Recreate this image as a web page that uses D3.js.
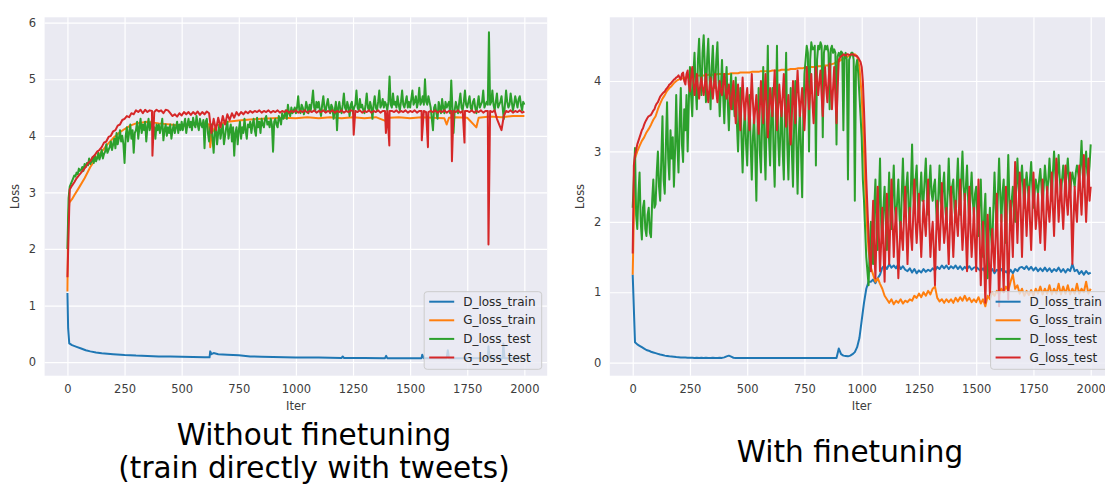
<!DOCTYPE html>
<html>
<head>
<meta charset="utf-8">
<script src="https://cdn.jsdelivr.net/npm/d3@7"></script>
<style>
  body { margin: 0; background: #fff; }
  text { font-family: "DejaVu Sans", sans-serif; }
</style>
</head>
<body>
<div class="display"></div>
<script>
// Two GAN loss plots side by side (seaborn darkgrid look)

const WIDTH = 1105;
const HEIGHT = 484;

const SERIES = ['D_loss_train', 'G_loss_train', 'D_loss_test', 'G_loss_test'];
const COLORS = ['#1f77b4', '#ff7f0e', '#2ca02c', '#d62728'];
const X_TICKS = [0, 250, 500, 750, 1000, 1250, 1500, 1750, 2000];
const Y_TICKS_LEFT = [0, 1, 2, 3, 4, 5, 6];
const Y_TICKS_RIGHT = [0, 1, 2, 3, 4];

// ---- left plot: without finetuning ----
const blueLeft = [[0,1.22],[3,0.6],[8,0.33],[20,0.3],[40,0.27],[60,0.24],[80,0.21],[100,0.19],[125,0.17],
  [150,0.155],[200,0.14],[250,0.125],[300,0.115],[350,0.11],[400,0.1],[450,0.1],[500,0.095],[550,0.09],
  [600,0.085],[622,0.085],[625,0.19],[630,0.14],[640,0.16],[660,0.14],[700,0.13],[750,0.12],[800,0.1],
  [850,0.095],[900,0.09],[950,0.085],[1000,0.08],[1100,0.08],[1200,0.075],[1205,0.1],[1210,0.075],
  [1300,0.075],[1390,0.07],[1395,0.11],[1400,0.07],[1500,0.07],[1550,0.07],[1553,0.13],[1560,0.07],
  [1660,0.07],[1665,0.21],[1670,0.07],[1750,0.07],[1840,0.07],[1843,0.28],[1848,0.07],[1905,0.07],
  [1908,0.33],[1913,0.07],[2000,0.07]];

const orangeLeft = [[0,1.25],[3,2.5],[8,2.82],[20,2.88],[30,2.95],[50,3.08],[75,3.25],[100,3.45],[125,3.6],
  [150,3.72],[175,3.85],[200,3.96],[225,4.05],[250,4.12],[275,4.18],[300,4.22],[350,4.25],[400,4.22],
  [450,4.2],[500,4.18],[550,4.2],[600,4.22],[620,4.2],[625,3.8],[632,4.05],[650,4.18],[700,4.25],
  [750,4.27],[800,4.29],[850,4.3],[900,4.31],[950,4.32],[1000,4.31],[1050,4.33],[1100,4.31],[1150,4.33],
  [1200,4.31],[1250,4.33],[1300,4.31],[1350,4.33],[1400,4.25],[1410,4.32],[1450,4.33],[1500,4.31],
  [1550,4.33],[1600,4.32],[1650,4.31],[1660,4.2],[1670,4.32],[1700,4.33],[1750,4.32],[1790,4.15],
  [1800,4.32],[1850,4.34],[1900,4.33],[1950,4.35],[2000,4.35]];

// every 5 iterations, one row = 100 iterations
const greenLeft = [
  2.0,2.9,3.1,3.15,3.2,3.25,3.3,3.28,3.35,3.32,3.42,3.38,3.4,3.45,3.38,3.5,3.45,3.52,3.48,3.6,
  3.5,3.55,3.62,3.52,3.65,3.55,3.6,3.7,3.58,3.65,3.75,3.6,3.68,3.72,3.85,3.7,3.75,3.8,3.9,3.75,
  3.85,3.95,3.78,4.05,3.85,3.95,4.1,3.9,4.0,3.85,3.52,4.0,4.15,3.9,4.05,4.2,3.95,4.1,3.7,4.05,
  4.1,4.25,3.95,4.15,4.3,4.05,4.2,4.1,4.25,3.9,4.15,4.3,4.1,4.2,4.28,4.05,4.15,3.95,4.2,4.1,
  4.2,4.05,4.15,4.3,3.92,4.1,4.2,4.0,4.15,4.05,4.2,3.95,4.1,4.2,4.05,4.15,4.25,4.05,4.2,4.1,
  4.25,4.1,4.2,4.3,4.05,4.2,4.3,4.15,4.25,4.1,4.32,4.2,4.15,4.35,4.2,4.1,4.3,4.2,4.15,4.28,
  3.78,4.25,4.3,4.05,3.9,4.15,4.2,3.95,3.7,4.1,4.15,3.85,4.05,4.2,3.95,4.1,4.2,3.85,4.0,4.15,
  4.25,3.95,4.1,4.2,3.9,4.15,3.65,4.05,4.15,3.85,4.1,4.25,3.95,4.15,4.05,4.3,4.1,3.95,4.2,4.15,
  4.25,4.05,4.2,4.3,4.1,4.0,4.32,4.15,4.25,4.05,4.3,4.2,4.15,4.3,4.35,4.2,4.25,4.15,4.3,4.2,
  3.72,4.25,4.3,4.2,4.15,4.35,4.3,4.2,4.4,4.3,4.35,4.45,4.3,4.55,4.4,4.35,4.5,4.4,4.45,4.5,
  4.4,4.5,4.7,4.45,4.4,4.55,4.5,4.38,4.45,4.6,4.5,4.4,4.55,4.45,4.6,4.8,4.5,4.45,4.6,4.5,
  4.6,4.45,4.35,4.55,4.7,4.5,4.42,4.55,4.65,4.5,4.4,4.55,4.5,4.3,4.45,4.6,4.1,4.5,4.6,4.45,
  4.4,4.55,4.75,4.5,4.45,4.6,4.5,4.35,4.55,4.6,4.4,4.5,4.55,4.8,4.5,4.45,4.65,4.5,4.55,4.45,
  4.4,4.55,4.75,4.5,4.45,4.6,4.5,4.3,4.55,4.7,4.5,4.45,4.6,4.8,4.5,4.55,4.65,4.5,4.6,4.55,
  4.45,4.6,5.05,4.55,4.5,4.75,4.55,4.6,4.5,4.7,4.55,4.45,4.6,4.8,4.55,4.5,4.6,4.7,4.5,4.6,
  4.5,4.65,4.8,4.55,4.6,4.7,4.5,4.6,4.85,4.55,4.6,4.7,4.55,5.0,4.6,4.55,4.7,4.6,4.5,4.3,
  4.1,4.5,4.55,4.4,4.3,4.6,4.5,4.4,4.65,4.5,4.4,4.6,4.5,4.55,4.6,4.4,4.98,4.5,4.05,4.45,
  4.6,4.5,4.4,4.6,4.75,4.5,4.45,4.6,4.8,4.55,4.5,4.6,4.7,4.5,4.45,4.6,4.65,4.5,4.4,4.55,
  4.7,4.5,4.55,4.6,4.8,4.5,4.55,4.6,4.55,5.83,4.55,4.6,4.8,4.55,4.45,4.6,4.75,4.5,4.55,4.6,
  4.7,4.5,4.3,4.55,4.8,4.6,4.5,4.55,4.75,4.6,4.45,4.55,4.7,4.6,4.5,4.65,4.7,4.55,4.45,4.6,
  4.55];

// every 10 iterations
const redLeft = [
  1.5,3.05,3.12,3.18,3.25,3.3,3.35,3.4,3.45,3.52,
  3.55,3.62,3.66,3.72,3.75,3.8,3.88,3.9,3.98,4.0,
  4.08,4.1,4.18,4.2,4.28,4.3,4.35,4.33,4.4,4.38,
  4.45,4.42,4.46,4.4,4.46,4.42,4.45,4.44,4.42,4.46,
  4.43,4.45,4.4,4.46,4.45,4.4,4.35,4.38,4.34,4.4,
  4.36,4.42,4.38,4.42,4.37,4.42,4.38,4.43,4.37,4.42,
  4.38,4.43,4.4,4.05,4.3,4.1,4.32,4.15,4.35,4.2,
  4.38,4.28,4.4,4.32,4.42,4.36,4.42,4.38,4.43,4.4,
  4.44,4.41,4.44,4.42,4.45,4.41,4.44,4.42,4.45,4.41,
  4.44,4.42,4.45,4.41,4.44,4.42,4.45,4.41,4.44,4.42,
  4.45,4.41,4.44,4.42,4.45,4.41,4.44,4.42,4.45,4.41,
  4.44,4.42,4.45,4.41,4.44,4.42,4.45,4.41,4.44,4.42,
  4.45,4.41,4.44,4.42,4.45,4.44,4.44,4.42,4.45,4.41,
  4.44,4.42,4.45,4.41,4.44,4.42,4.45,4.41,4.44,4.44,
  4.44,4.44,4.44,4.42,4.45,4.41,4.44,4.42,4.45,4.41,
  4.44,4.42,4.45,4.41,4.44,4.44,4.44,4.42,4.42,4.44,
  4.42,4.45,4.41,4.44,4.42,4.45,4.41,4.44,4.44,4.44,
  4.42,4.45,4.41,4.44,4.44,4.44,4.42,4.45,4.41,4.44,
  4.42,4.45,4.41,4.44,4.44,4.44,4.42,4.45,4.3,4.2,
  4.1,4.35,4.44,4.42,4.45,4.41,4.44,4.42,4.45,4.41,
  4.43];
// sharp downward spikes of G_loss_test
const redLeftSpikes = [[372,3.65],[1253,4.02],[1394,4.05],[1409,3.83],[1551,3.92],[1578,3.8],
  [1683,3.55],[1738,3.88],[1843,2.08]];

// ---- right plot: with finetuning ----
// every 10 iterations
const blueRight = [
  1.25,0.29,0.26,0.24,0.22,0.2,0.18,0.17,0.155,0.145,
  0.135,0.125,0.115,0.11,0.1,0.095,0.09,0.088,0.085,0.08,
  0.078,0.075,0.073,0.072,0.07,0.07,0.07,0.068,0.07,0.068,
  0.07,0.068,0.07,0.068,0.068,0.07,0.068,0.068,0.07,0.068,
  0.075,0.09,0.1,0.085,0.07,0.065,0.065,0.066,0.065,0.065,
  0.065,0.065,0.066,0.065,0.065,0.065,0.066,0.065,0.065,0.065,
  0.065,0.066,0.065,0.065,0.065,0.066,0.065,0.065,0.065,0.066,
  0.065,0.065,0.066,0.065,0.065,0.065,0.066,0.065,0.065,0.065,
  0.066,0.065,0.065,0.065,0.066,0.065,0.065,0.065,0.066,0.065,
  0.2,0.12,0.1,0.095,0.09,0.1,0.12,0.15,0.22,0.35,
  0.6,0.85,1.05,1.15,1.15,1.18,1.13,1.2,1.25,1.35,
  1.38,1.33,1.4,1.35,1.38,1.34,1.4,1.33,1.37,1.32,
  1.3,1.34,1.28,1.33,1.27,1.31,1.28,1.33,1.29,1.32,
  1.3,1.34,1.31,1.36,1.33,1.38,1.34,1.38,1.33,1.37,
  1.34,1.38,1.33,1.37,1.32,1.36,1.33,1.37,1.32,1.35,
  1.36,1.33,1.3,1.34,1.28,1.32,1.29,1.33,1.27,1.32,
  1.3,1.33,1.27,1.3,1.26,1.32,1.27,1.33,1.3,1.35,
  1.36,1.33,1.37,1.32,1.36,1.31,1.35,1.3,1.34,1.3,
  1.35,1.3,1.34,1.29,1.33,1.3,1.35,1.29,1.33,1.28,
  1.33,1.3,1.4,1.3,1.32,1.26,1.3,1.25,1.3,1.26,
  1.28];

const orangeRight = [
  1.25,2.9,3.0,3.08,3.15,3.2,3.27,3.32,3.38,3.45,
  3.5,3.6,3.68,3.75,3.8,3.86,3.9,3.93,3.97,4.0,
  4.02,4.03,4.04,4.05,4.05,4.06,4.06,4.07,4.07,4.08,
  4.08,4.08,4.08,4.09,4.09,4.09,4.09,4.1,4.1,4.1,
  4.1,4.1,4.1,4.11,4.11,4.11,4.11,4.12,4.12,4.12,
  4.12,4.12,4.13,4.13,4.13,4.13,4.14,4.14,4.14,4.14,
  4.14,4.15,4.15,4.15,4.15,4.16,4.16,4.16,4.16,4.17,
  4.17,4.17,4.18,4.18,4.18,4.19,4.19,4.2,4.2,4.2,
  4.2,4.21,4.21,4.22,4.22,4.22,4.23,4.24,4.25,4.27,
  4.28,4.3,4.32,4.33,4.35,4.36,4.38,4.38,4.35,4.2,
  3.8,3.0,2.1,1.6,1.35,1.25,1.15,1.2,1.12,1.05,
  0.95,0.9,0.85,0.9,0.83,0.88,0.85,0.9,0.84,0.88,
  0.86,0.9,0.88,0.95,0.92,0.98,0.93,1.0,0.95,1.02,
  0.97,1.05,1.08,0.92,0.87,0.9,0.85,0.9,0.86,0.9,
  0.85,0.92,0.87,0.93,0.88,0.95,0.88,0.92,0.86,0.9,
  0.86,0.93,0.84,0.9,0.8,0.95,0.9,1.0,0.95,1.02,
  0.97,1.05,1.0,1.08,1.02,1.15,1.25,1.05,1.1,0.98,
  1.05,0.95,1.02,0.96,1.03,0.95,1.05,0.98,1.08,0.97,
  1.05,0.98,1.1,0.97,1.05,0.98,1.12,0.97,1.08,0.98,
  1.1,0.97,1.05,0.98,1.12,0.98,1.05,1.0,1.15,0.98,
  1.05];

// every 5 iterations, one row = 100 iterations
const greenRight = [
  2.2,2.6,3.05,2.1,1.9,2.4,2.7,2.0,1.75,2.2,2.3,1.9,1.8,2.1,2.2,1.85,1.78,2.3,2.6,2.2,
  2.25,2.7,3.0,2.5,2.3,2.9,3.5,2.6,2.4,3.1,3.7,2.9,2.6,3.3,2.9,3.2,2.5,3.0,3.8,3.1,
  2.7,3.4,3.9,3.1,2.85,3.6,3.3,3.8,3.0,3.7,4.2,3.8,3.5,4.1,4.4,3.9,3.6,4.3,4.6,4.1,
  3.8,4.4,4.65,4.2,3.7,4.3,4.6,4.1,3.6,4.2,4.5,4.0,3.9,4.3,4.55,4.0,3.5,3.9,4.3,3.8,
  3.4,3.9,4.2,3.7,3.3,3.8,4.1,3.6,3.8,3.5,4.05,3.4,3.0,3.5,3.9,3.2,2.7,3.3,3.6,3.1,
  2.8,3.4,3.8,3.1,2.6,3.2,3.5,3.0,2.3,3.3,3.9,3.0,2.7,3.4,4.2,3.1,2.6,3.5,4.5,3.2,
  2.8,3.5,3.9,3.0,2.5,3.4,4.5,3.2,2.8,3.3,3.7,3.0,2.6,3.6,4.4,3.1,2.6,3.3,3.9,3.0,
  2.5,3.4,4.0,3.1,2.4,3.2,3.6,3.0,2.35,3.5,4.1,4.3,4.5,4.4,3.0,4.3,4.55,4.45,4.45,4.5,
  2.8,4.3,4.5,4.45,4.55,4.5,3.2,4.4,4.5,4.45,4.5,4.4,3.6,4.45,4.5,4.4,4.45,4.4,3.1,4.35,
  4.4,4.35,4.42,4.4,3.3,4.35,4.4,4.3,2.6,4.3,4.35,4.4,4.4,4.3,2.3,4.2,4.3,4.1,3.8,3.5,
  3.2,2.6,2.3,1.9,1.5,1.3,1.1,1.6,2.0,1.5,1.4,2.2,2.6,1.9,1.6,2.3,2.9,2.0,1.7,2.2,
  2.5,2.0,1.6,2.2,2.7,2.1,1.9,2.4,2.8,2.2,2.0,2.3,2.6,2.1,1.8,2.4,2.9,2.3,2.1,2.5,
  2.7,2.2,1.9,2.5,3.1,2.4,2.2,2.6,2.8,2.3,2.0,2.4,2.7,2.3,2.3,2.6,2.9,2.4,2.1,2.5,
  2.8,2.4,2.3,2.5,2.6,2.2,1.9,2.4,2.8,2.3,2.2,2.5,2.7,2.2,2.0,2.4,2.9,2.4,2.2,2.5,
  2.6,2.2,2.0,2.5,2.9,2.4,2.1,2.6,3.0,2.5,2.3,2.5,2.8,2.3,2.0,2.4,2.7,2.3,2.1,2.4,
  2.5,2.1,1.8,2.3,2.6,2.0,1.5,2.1,2.4,1.6,1.2,1.9,2.2,1.8,1.6,2.2,2.7,2.2,1.9,2.4,
  2.9,2.4,2.0,2.4,2.6,2.1,1.7,2.3,2.95,2.3,1.9,2.3,2.5,2.2,2.0,2.5,2.9,2.5,2.3,2.6,
  2.8,2.5,2.2,2.5,2.7,2.5,2.3,2.6,2.85,2.5,2.2,2.4,2.6,2.5,2.4,2.6,2.75,2.5,2.2,2.5,
  2.8,2.6,2.4,2.6,2.9,2.6,2.3,2.7,3.0,2.7,2.5,2.7,2.95,2.6,2.4,2.6,2.8,2.6,2.5,2.7,
  2.9,2.6,2.4,2.6,2.7,2.6,2.5,2.7,2.8,2.7,2.6,2.8,3.15,2.7,2.5,2.8,3.0,2.7,2.6,2.8,
  3.1];

const redRight = [
  1.55,2.8,2.95,3.02,3.1,3.15,3.2,3.25,3.3,3.33,3.38,3.42,3.45,3.48,3.5,3.51,3.52,3.55,3.58,3.6,
  3.65,3.68,3.7,3.74,3.78,3.8,3.82,3.84,3.85,3.88,3.9,3.92,3.95,3.96,3.98,4.0,4.02,4.03,4.05,4.06,
  4.08,4.05,4.02,4.1,4.12,4.0,3.95,4.1,4.15,3.95,3.85,4.05,4.2,4.0,3.8,3.95,4.1,3.9,3.75,3.95,
  4.05,3.9,3.8,3.95,4.1,3.85,3.7,3.9,4.05,3.9,3.75,3.95,4.1,3.85,3.7,3.9,4.0,3.85,3.8,3.95,
  4.1,3.9,3.75,3.85,3.95,3.7,3.6,3.85,4.0,3.7,3.4,3.75,3.95,3.6,3.3,3.7,4.05,3.7,3.45,3.75,
  3.9,3.6,3.3,3.7,4.1,3.7,3.4,3.6,3.8,3.5,3.25,3.6,4.0,3.65,3.4,3.75,4.1,3.6,3.2,3.55,
  3.9,3.7,3.5,3.8,4.15,3.7,3.3,3.6,3.95,3.7,3.5,3.8,4.1,3.6,3.35,3.6,3.8,3.4,3.1,3.5,
  4.0,3.7,3.4,3.8,4.15,3.8,3.5,3.7,3.9,3.6,3.3,3.7,4.2,3.9,3.6,3.85,4.1,3.7,3.4,3.8,
  4.2,4.0,3.8,4.0,4.15,3.8,3.5,3.9,4.2,3.9,3.7,4.0,4.25,3.9,3.6,3.9,4.2,3.8,3.4,3.9,
  4.3,4.33,4.35,4.36,4.38,4.37,4.36,4.38,4.38,4.37,4.37,4.38,4.38,4.37,4.36,4.36,4.35,4.33,4.3,4.27,
  4.2,4.0,3.6,3.1,2.6,2.2,1.8,1.5,1.3,1.8,2.3,1.6,1.2,1.9,2.5,1.8,1.3,1.7,2.2,1.6,
  1.15,1.8,2.4,1.9,1.4,2.0,2.6,2.0,1.5,1.9,2.2,1.7,1.2,1.6,2.0,1.8,1.6,2.1,2.5,1.9,
  1.4,1.9,2.2,1.8,1.6,2.1,2.6,2.0,1.7,2.0,2.4,1.9,1.5,1.9,2.3,2.0,1.8,2.2,2.6,2.0,
  1.5,1.8,2.0,1.6,1.1,1.8,2.3,1.9,1.6,2.0,2.55,2.0,1.7,1.9,2.2,1.8,1.4,1.9,2.5,1.9,
  1.5,1.9,2.3,2.0,1.8,2.2,2.6,2.0,1.6,1.9,2.4,1.8,1.3,1.9,2.5,1.9,1.5,1.8,2.2,1.7,
  1.3,2.0,2.6,1.8,1.1,1.6,2.0,1.4,0.85,1.5,2.1,1.5,0.95,1.4,1.9,1.6,1.3,1.8,2.4,1.6,
  0.8,1.5,2.1,1.5,1.0,1.8,2.5,1.6,0.9,1.7,2.3,1.9,1.5,2.2,2.85,2.2,1.7,2.2,2.7,2.1,
  1.5,2.1,2.6,2.2,1.8,2.2,2.5,2.0,1.6,2.1,2.7,2.3,1.9,2.1,2.4,2.0,1.7,2.1,2.6,2.1,
  1.6,2.0,2.5,2.2,2.0,2.3,2.7,2.2,1.8,2.3,2.9,2.4,2.0,2.3,2.6,2.2,1.9,2.3,2.8,2.3,
  2.1,2.4,2.7,2.1,1.4,2.0,2.5,2.2,2.0,2.4,2.8,2.4,2.1,2.5,2.95,2.4,2.0,2.4,2.9,2.3,
  2.5];

function stepped(vals, step) {
  return vals.map((v, i) => [i * step, v]);
}

function withSpikes(points, spikes) {
  return points.concat(spikes).sort((a, b) => a[0] - b[0]);
}

const panels = [
  {
    left: 44.6, right: 547.2, top: 17.3, bottom: 375.7,
    yDomain: [-0.24, 6.095], yTicks: Y_TICKS_LEFT,
    data: [blueLeft, orangeLeft, stepped(greenLeft, 5), withSpikes(stepped(redLeft, 10), redLeftSpikes)],
    title: ['Without finetuning', '(train directly with tweets)'], titleX: 314, titleY: [445, 478]
  },
  {
    left: 609.8, right: 1113.6, top: 17.3, bottom: 375.7,
    yDomain: [-0.185, 4.905], yTicks: Y_TICKS_RIGHT,
    data: [stepped(blueRight, 10), stepped(orangeRight, 10), stepped(greenRight, 5), stepped(redRight, 5)],
    title: ['With finetuning'], titleX: 850, titleY: [462]
  }
];

const svg = d3.select('.display')
  .append('svg')
  .attr('width', WIDTH)
  .attr('height', HEIGHT);

function drawPanel(p) {
  const x = d3.scaleLinear().domain([-100, 2100]).range([p.left, p.right]);
  const y = d3.scaleLinear().domain(p.yDomain).range([p.bottom, p.top]);
  const g = svg.append('g');

  g.append('rect')
    .attr('x', p.left).attr('y', p.top)
    .attr('width', p.right - p.left).attr('height', p.bottom - p.top)
    .attr('fill', '#eaeaf2');

  const xAxis = g.append('g')
    .attr('transform', `translate(0,${p.bottom})`)
    .call(d3.axisBottom(x).tickValues(X_TICKS).tickFormat(d3.format('d'))
      .tickSize(-(p.bottom - p.top)).tickPadding(9.5));
  const yAxis = g.append('g')
    .attr('transform', `translate(${p.left},0)`)
    .call(d3.axisLeft(y).tickValues(p.yTicks).tickFormat(d3.format('d'))
      .tickSize(-(p.right - p.left)).tickPadding(8.5));

  [xAxis, yAxis].forEach(a => {
    a.select('.domain').remove();
    a.selectAll('line').attr('stroke', '#fff').attr('stroke-width', 1.2);
    a.selectAll('text').attr('fill', '#3d3d3d').style('font-size', '11.5px').style('font-family', '"DejaVu Sans"');
  });

  g.append('text')
    .attr('x', (p.left + p.right) / 2).attr('y', 410)
    .attr('text-anchor', 'middle').attr('fill', '#3d3d3d').style('font-size', '11.5px')
    .text('Iter');
  g.append('text')
    .attr('transform', `translate(${p.left - 25.5},${(p.top + p.bottom) / 2}) rotate(-90)`)
    .attr('text-anchor', 'middle').attr('fill', '#3d3d3d').style('font-size', '11.5px')
    .text('Loss');

  const line = d3.line().x(d => x(d[0])).y(d => y(d[1]));
  p.data.forEach((pts, i) => {
    g.append('path')
      .attr('d', line(pts))
      .attr('fill', 'none')
      .attr('stroke', COLORS[i])
      .attr('stroke-width', 2)
      .attr('stroke-linejoin', 'round');
  });

  // legend, lower right
  const lw = 117.5, lh = 77.6;
  const lx = p.right - 5.5 - lw, ly = p.bottom - 6.4 - lh;
  const legend = g.append('g').attr('transform', `translate(${lx},${ly})`);
  legend.append('rect')
    .attr('width', lw).attr('height', lh).attr('rx', 3)
    .attr('fill', '#eaeaf2').attr('fill-opacity', 0.8)
    .attr('stroke', '#cccccc').attr('stroke-width', 1);
  SERIES.forEach((name, i) => {
    const ry = 10 + i * 18.6;
    legend.append('line')
      .attr('x1', 5).attr('x2', 30).attr('y1', ry).attr('y2', ry)
      .attr('stroke', COLORS[i]).attr('stroke-width', 2);
    legend.append('text')
      .attr('x', 39).attr('y', ry).attr('dy', '0.35em')
      .attr('fill', '#262626').style('font-size', '12px')
      .text(name);
  });

  p.title.forEach((t, i) => {
    svg.append('text')
      .attr('x', p.titleX).attr('y', p.titleY[i])
      .attr('text-anchor', 'middle').attr('fill', '#000').style('font-size', '29.5px')
      .text(t);
  });
}

panels.forEach(drawPanel);
</script>
</body>
</html>
